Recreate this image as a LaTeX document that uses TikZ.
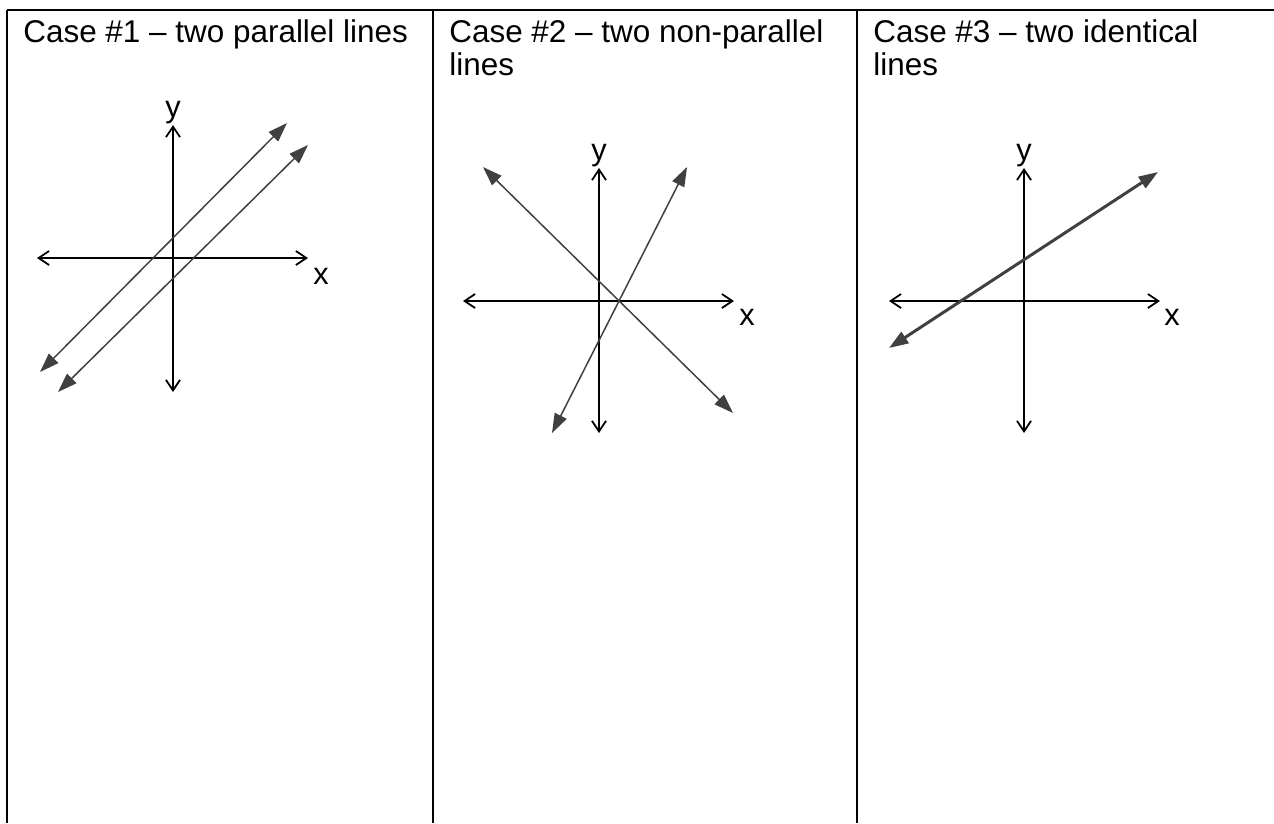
\documentclass[tikz,border=0pt]{standalone}
\usepackage{fontspec}
\setmainfont{Liberation Sans}
\usetikzlibrary{arrows.meta, positioning}

\begin{document}
\begin{tikzpicture}[x=0.02cm, y=-0.02cm]
    % Styles
    \tikzstyle{gridline} = [line width=1.1pt, black]
    \tikzstyle{axis} = [line width=1pt, black, {Straight Barb[length=6pt, width=8pt]}-{Straight Barb[length=6pt, width=8pt]}]
    \tikzstyle{graphline} = [line width=0.85pt, black!75, {Triangle[length=11pt, width=7.5pt]}-{Triangle[length=11pt, width=7.5pt]}]
    \tikzstyle{caption} = [anchor=base west, align=left, inner sep=0pt, font=\fontsize{17.9}{19}\selectfont]
    \tikzstyle{lbl} = [inner sep=0pt, font=\fontsize{17.5}{19.5}\selectfont]

    \useasboundingbox (0,0) rectangle (1274,823);

    % Table
    \draw[gridline] (7,10) -- (1274,10);
    \foreach \col in {7,433,857}
        \draw[gridline] (\col,10) -- (\col,823);

    % Headings (base = last line)
    \node (head1) [caption] at (23,42) {Case \#1 – two parallel lines};
    \node (head2) [caption] at (449,75.5) {Case \#2 – two non-parallel\\lines};
    \node (head3) [caption] at (873,75.5) {Case \#3 – two identical\\lines};

    % Case 1
    \coordinate (xl1) at (37,258);
    \coordinate (xr1) at (308,258);
    \coordinate (yt1) at (173,125);
    \coordinate (yb1) at (173,392);
    \node (ylbl1) [lbl] at (173,113) {y};
    \node (xlbl1) [lbl] at (321,276) {x};
    \draw[axis] (xl1) -- (xr1);
    \draw[axis] (yb1) -- (yt1);
    \coordinate (la1) at (40,372);
    \coordinate (la2) at (287,123);
    \coordinate (lb1) at (58,392);
    \coordinate (lb2) at (308,145);
    \draw[graphline] (la1) -- (la2);
    \draw[graphline] (lb1) -- (lb2);

    % Case 2
    \coordinate (xl2) at (463,301);
    \coordinate (xr2) at (734,301);
    \coordinate (yt2) at (599,168);
    \coordinate (yb2) at (599,433);
    \node (ylbl2) [lbl] at (599,156) {y};
    \node (xlbl2) [lbl] at (747,317) {x};
    \draw[axis] (xl2) -- (xr2);
    \draw[axis] (yb2) -- (yt2);
    \coordinate (down1) at (483,167);
    \coordinate (down2) at (733,413);
    \coordinate (up1) at (552,433);
    \coordinate (up2) at (687,167);
    \draw[graphline] (down1) -- (down2);
    \draw[graphline] (up1) -- (up2);

    % Case 3
    \coordinate (xl3) at (889,301);
    \coordinate (xr3) at (1160,301);
    \coordinate (yt3) at (1024,168);
    \coordinate (yb3) at (1024,433);
    \node (ylbl3) [lbl] at (1024,156) {y};
    \node (xlbl3) [lbl] at (1172,317) {x};
    \draw[axis] (xl3) -- (xr3);
    \draw[axis] (yb3) -- (yt3);
    \coordinate (same1) at (889,348);
    \coordinate (same2) at (1158,172);
    \draw[graphline, line width=1.7pt] (same1) -- (same2);
\end{tikzpicture}
\end{document}
